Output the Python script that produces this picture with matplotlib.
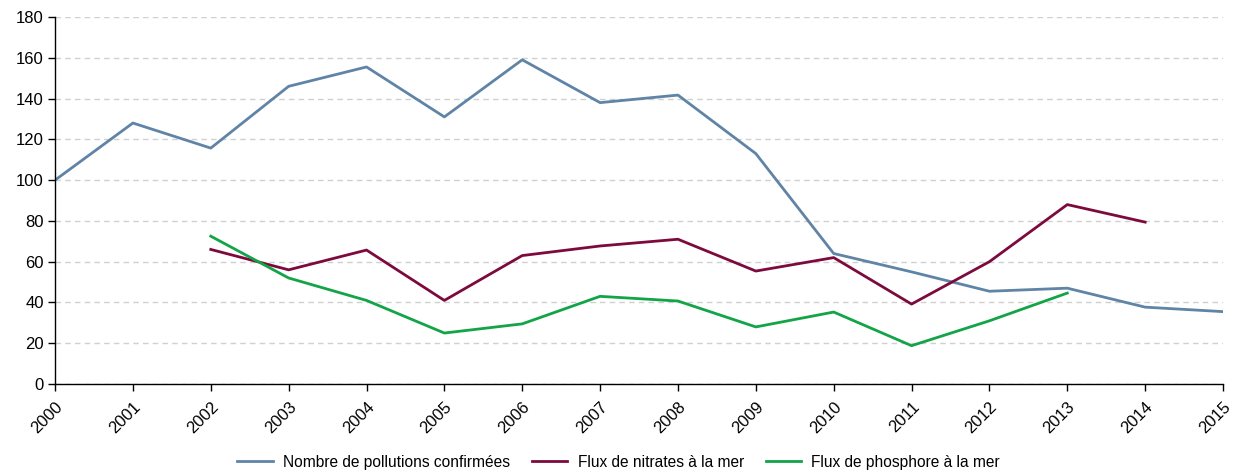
import numpy as np
import matplotlib
matplotlib.use('Agg')
import matplotlib.pyplot as plt

plt.rcParams['font.family'] = ['Liberation Sans', 'DejaVu Sans']

years = list(range(2000, 2016))
pollutions = [100, 128, 115.7, 146, 155.5, 131, 159, 138, 141.7, 113, 64, 55, 45.5, 47, 37.7, 35.5]
years_flux = list(range(2002, 2015))
nitrates = [66, 56, 65.7, 41, 63, 67.7, 71, 55.4, 62, 39.2, 60, 88, 79.4]
years_phos = list(range(2002, 2014))
phosphore = [72.5, 52, 41, 25, 29.5, 43, 40.7, 28, 35.3, 18.8, 31, 44.6]

fig = plt.figure(figsize=(12.37, 4.72), dpi=100)
ax = fig.add_axes([0.0445, 0.1864, 0.9442, 0.7776])

ax.plot(years, pollutions, color='#5f84a6', lw=2, label='Nombre de pollutions confirmées')
ax.plot(years_flux, nitrates, color='#7d0a3c', lw=2, label='Flux de nitrates à la mer')
ax.plot(years_phos, phosphore, color='#12a447', lw=2, label='Flux de phosphore à la mer')

ax.set_xlim(2000, 2015)
ax.set_ylim(0, 180)
ax.set_xticks(years)
ax.set_xticklabels([str(y) for y in years], rotation=45, ha='right', rotation_mode='anchor')
ax.set_yticks(np.arange(0, 181, 20))
ax.tick_params(axis='both', labelsize=12, direction='out', length=5, width=1, colors='black')
ax.tick_params(axis='x', pad=6)
ax.tick_params(axis='y', pad=3)

ax.yaxis.grid(True, linestyle=(0, (4, 3)), color='#d0d0d0', lw=1)
ax.set_axisbelow(True)
for s in ['top', 'right']:
    ax.spines[s].set_visible(False)
for s in ['left', 'bottom']:
    ax.spines[s].set_linewidth(1)
    ax.spines[s].set_color('black')

fig.legend(loc='lower center', bbox_to_anchor=(0.5, -0.025), ncol=3, frameon=False,
           fontsize=11.2, handlelength=2.3, columnspacing=1.4, handletextpad=0.65)

fig.savefig('out.png', dpi=100)
